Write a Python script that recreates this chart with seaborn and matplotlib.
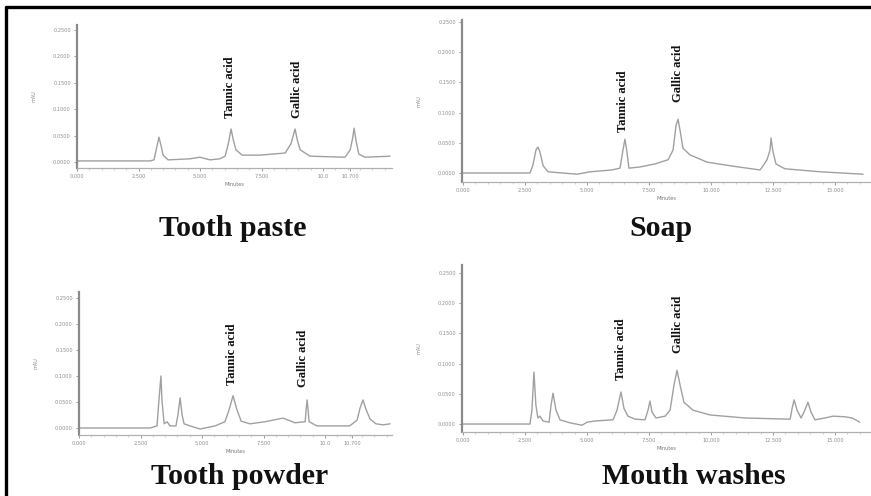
import matplotlib
matplotlib.use("Agg")
import matplotlib.pyplot as plt
from matplotlib.lines import Line2D
from matplotlib.ticker import AutoMinorLocator
import seaborn as sns
import pandas as pd

sns.set_style("white")
plt.rcParams["font.family"] = ["Liberation Serif", "DejaVu Serif"]

# ---------------- data (retention time in minutes, signal in mAU) ----------------
titles = ["Tooth paste", "Soap", "Tooth powder", "Mouth washes"]
compound_labels = ["Tannic acid", "Gallic acid"]

paste_t = [0.0, 2.97, 3.13, 3.25, 3.33, 3.42, 3.5, 3.7, 4.59, 5.0, 5.41, 5.8,
           6.02, 6.15, 6.26, 6.36, 6.46, 6.71, 7.44, 8.46, 8.7, 8.86, 8.96, 9.07,
           9.47, 10.89, 11.1, 11.2, 11.26, 11.34, 11.45, 11.7, 12.72]
paste_s = [0.002, 0.002, 0.004, 0.030, 0.047, 0.030, 0.013, 0.004, 0.006, 0.009, 0.004, 0.006,
           0.011, 0.035, 0.0625, 0.040, 0.023, 0.013, 0.013, 0.017, 0.035, 0.0625, 0.040, 0.023,
           0.011, 0.009, 0.023, 0.045, 0.064, 0.040, 0.015, 0.009, 0.011]

soap_t = [0.0, 2.70, 2.82, 2.94, 3.02, 3.10, 3.23, 3.43, 4.6, 5.12, 6.0, 6.33, 6.45,
          6.53, 6.61, 6.69, 7.14, 7.74, 8.27, 8.47, 8.59, 8.67, 8.75, 8.87, 9.15,
          9.84, 10.77, 11.98, 12.1, 12.26, 12.38, 12.42, 12.5, 12.62, 12.98, 14.4, 16.13]
soap_s = [0.0, 0.0, 0.013, 0.038, 0.043, 0.035, 0.012, 0.002, -0.002, 0.002, 0.005, 0.008, 0.038,
          0.056, 0.035, 0.008, 0.010, 0.015, 0.022, 0.038, 0.079, 0.089, 0.071, 0.041, 0.030,
          0.018, 0.012, 0.005, 0.012, 0.022, 0.038, 0.058, 0.035, 0.015, 0.007, 0.002, -0.002]

powder_t = [0.0, 2.89, 3.17, 3.25, 3.33, 3.37, 3.46, 3.58, 3.7, 3.94, 4.02, 4.11, 4.19,
            4.27, 4.51, 4.92, 5.53, 5.93, 6.1, 6.26, 6.42, 6.59, 6.95, 7.56, 8.29, 8.78,
            9.19, 9.23, 9.27, 9.31, 9.35, 9.67, 11.0, 11.3, 11.42, 11.54, 11.67, 11.83,
            12.07, 12.36, 12.64]
powder_s = [0.0, 0.0, 0.004, 0.054, 0.100, 0.054, 0.008, 0.012, 0.004, 0.004, 0.025, 0.058, 0.025,
            0.008, 0.004, -0.002, 0.004, 0.012, 0.035, 0.062, 0.035, 0.013, 0.008, 0.012, 0.019, 0.010,
            0.012, 0.035, 0.054, 0.035, 0.012, 0.004, 0.004, 0.015, 0.038, 0.054, 0.035, 0.017,
            0.008, 0.006, 0.008]

mouth_t = [0.0, 2.70, 2.78, 2.86, 2.94, 3.02, 3.10, 3.23, 3.47, 3.55, 3.63, 3.75, 3.91,
           4.31, 4.8, 5.0, 5.32, 6.05, 6.21, 6.37, 6.49, 6.65, 6.94, 7.34, 7.46, 7.54,
           7.62, 7.78, 8.15, 8.35, 8.51, 8.63, 8.75, 8.91, 9.27, 9.96, 11.37, 13.19,
           13.27, 13.35, 13.47, 13.63, 13.75, 13.91, 14.03, 14.19, 14.6, 14.92, 15.4,
           15.69, 16.0]
mouth_s = [0.0, 0.0, 0.023, 0.086, 0.031, 0.010, 0.013, 0.005, 0.003, 0.031, 0.051, 0.023, 0.007,
           0.002, -0.002, 0.003, 0.005, 0.007, 0.023, 0.053, 0.026, 0.013, 0.008, 0.007, 0.023, 0.038,
           0.020, 0.010, 0.013, 0.023, 0.065, 0.089, 0.065, 0.036, 0.023, 0.015, 0.010, 0.008,
           0.026, 0.040, 0.023, 0.010, 0.020, 0.036, 0.020, 0.007, 0.010, 0.013, 0.012,
           0.010, 0.003]

# label anchor (time, signal at bottom of rotated label) for [Tannic, Gallic]
paste_lab_t, paste_lab_s = [6.22, 8.94], [0.083, 0.083]
soap_lab_t, soap_lab_s = [6.45, 8.67], [0.068, 0.118]
powder_lab_t, powder_lab_s = [6.22, 9.10], [0.083, 0.079]
mouth_lab_t, mouth_lab_s = [6.37, 8.67], [0.073, 0.118]

y_ticks = [0.0, 0.05, 0.10, 0.15, 0.20, 0.25]
y_ticklabels = ["0.0000", "0.0500", "0.1000", "0.1500", "0.2000", "0.2500"]
x_ticks_short = [0.0, 2.5, 5.0, 7.5, 10.0, 11.1]
x_ticklabels_short = ["0.000", "2.500", "5.000", "7.500", "10.0", "10.700"]
x_ticks_long = [0.0, 2.5, 5.0, 7.5, 10.0, 12.5, 15.0]
x_ticklabels_long = ["0.000", "2.500", "5.000", "7.500", "10.000", "12.500", "15.000"]

# ---------------- figure ----------------
W, H = 871, 496
fig = plt.figure(figsize=(W / 100, H / 100), dpi=100)

def px_axes(l, r, t, b):
    return fig.add_axes([l / W, 1 - b / H, (r - l) / W, (b - t) / H])

panels = [
    dict(box=(77, 392, 25, 168), t=paste_t, s=paste_s, lt=paste_lab_t, ls=paste_lab_s,
         xlim=(0, 12.8), ylim=(-0.0114, 0.2595), xt=x_ticks_short, xtl=x_ticklabels_short,
         title=titles[0], tpos=(233, 228)),
    dict(box=(462, 870, 20, 182), t=soap_t, s=soap_s, lt=soap_lab_t, ls=soap_lab_s,
         xlim=(-0.04, 16.41), ylim=(-0.0149, 0.2533), xt=x_ticks_long, xtl=x_ticklabels_long,
         title=titles[1], tpos=(661, 228)),
    dict(box=(79, 392, 292, 435), t=powder_t, s=powder_s, lt=powder_lab_t, ls=powder_lab_s,
         xlim=(0, 12.72), ylim=(-0.0135, 0.2615), xt=x_ticks_short, xtl=x_ticklabels_short,
         title=titles[2], tpos=(240, 476)),
    dict(box=(462, 870, 265, 432), t=mouth_t, s=mouth_s, lt=mouth_lab_t, ls=mouth_lab_s,
         xlim=(-0.04, 16.41), ylim=(-0.0132, 0.2632), xt=x_ticks_long, xtl=x_ticklabels_long,
         title=titles[3], tpos=(694, 476)),
]

line_col = "#a0a0a0"

for p in panels:
    ax = px_axes(*p["box"])
    df = pd.DataFrame({"Minutes": p["t"], "mAU": p["s"]})
    sns.lineplot(data=df, x="Minutes", y="mAU", ax=ax, color=line_col,
                 linewidth=1.0, estimator=None, sort=False)
    ax.set_xlim(*p["xlim"])
    ax.set_ylim(*p["ylim"])
    for side in ["top", "right"]:
        ax.spines[side].set_visible(False)
    ax.spines["left"].set_color("#8a8a8a")
    ax.spines["left"].set_linewidth(1.6)
    ax.spines["bottom"].set_color("#b0b0b0")
    ax.spines["bottom"].set_linewidth(0.9)
    ax.set_yticks(y_ticks)
    ax.set_yticklabels(y_ticklabels)
    ax.set_xticks(p["xt"])
    ax.set_xticklabels(p["xtl"])
    ax.xaxis.set_minor_locator(AutoMinorLocator(5))
    ax.tick_params(axis="both", which="major", labelsize=3.6, colors="#8c8c8c",
                   length=2.5, width=0.6, pad=2, bottom=True, left=True)
    ax.tick_params(axis="x", which="minor", length=1.5, width=0.4, color="#aaaaaa", bottom=True)
    for lbl in ax.get_xticklabels() + ax.get_yticklabels():
        lbl.set_family(["DejaVu Sans"])
    ax.set_xlabel("Minutes", fontsize=3.6, color="#777777", labelpad=2, family=["DejaVu Sans"])
    ax.set_ylabel("mAU", fontsize=3.6, color="#888888", labelpad=12, family=["DejaVu Sans"])
    ax.patch.set_alpha(0)
    for name, xt, yt in zip(compound_labels, p["lt"], p["ls"]):
        ax.text(xt, yt, name, rotation=90, ha="center", va="bottom",
                fontsize=9, fontweight="bold", color="#111111")
    fig.text(p["tpos"][0] / W, 1 - p["tpos"][1] / H, p["title"], ha="center", va="center",
             fontsize=21.5, fontweight="bold", color="#111111")

# outer frame (left and top border of the scanned figure)
fig.add_artist(Line2D([6 / W, 6 / W], [0, 1 - 7 / H], transform=fig.transFigure,
                      color="black", linewidth=2.4))
fig.add_artist(Line2D([6 / W, 1], [1 - 7 / H, 1 - 7 / H], transform=fig.transFigure,
                      color="black", linewidth=2.4))

fig.savefig("out.png", dpi=100)
